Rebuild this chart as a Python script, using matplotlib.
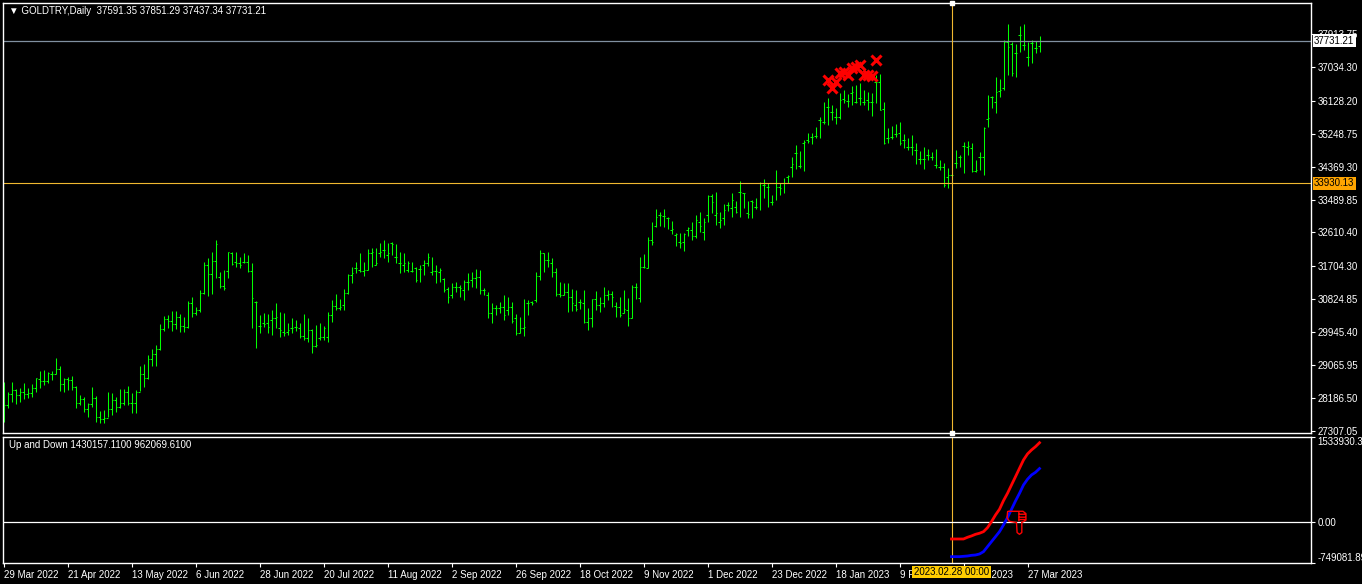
import matplotlib
matplotlib.use('Agg')
import matplotlib.pyplot as plt
import matplotlib.transforms as mtransforms
from matplotlib.collections import LineCollection
from matplotlib.path import Path
import pandas as pd

plt.rcParams['font.family'] = ['Liberation Sans', 'DejaVu Sans']

# daily OHLC of GOLDTRY, 29 Mar 2022 .. 30 Mar 2023
opens = [
    27600, 28000, 28294, 28401, 28267, 28348, 28294, 28321, 28454, 28696,
    28641, 28641, 28829, 28829, 28963, 28561, 28696, 28668, 28481, 28054,
    28161, 27894, 28027, 28187, 27680, 27627, 27653, 27894, 28134, 27947,
    28054, 28348, 28054, 28054, 28348, 28829, 28722, 29230, 29363, 29497,
    30031, 30299, 30245, 30165, 30352, 30112, 30085, 30726, 30459, 30539,
    30993, 31741, 31501, 31848, 31421, 31180, 31581, 32062, 31822, 31795,
    31822, 31822, 31581, 30753, 30112, 30192, 30192, 30272, 30325, 30058,
    29951, 29951, 30058, 30085, 30058, 29844, 29790, 30004, 29577, 29790,
    29817, 29817, 30405, 30646, 30592, 30672, 30993, 31474, 31661, 31608,
    31581, 31608, 32062, 31741, 32062, 32142, 32008, 32329, 31955, 31795,
    31741, 31608, 31581, 31661, 31635, 31741, 31795, 31555, 31581, 31555,
    31367, 31100, 30939, 31153, 31153, 31073, 31287, 31340, 31394, 31421,
    31073, 30939, 30459, 30592, 30592, 30619, 30539, 30619, 30325, 29924,
    30058, 30726, 30753, 30806, 31448, 32062, 31875, 31795, 31555, 30966,
    30939, 31020, 30886, 30672, 30753, 30726, 30219, 30325, 30833, 30672,
    30726, 30939, 30966, 30646, 30619, 30459, 30539, 30325, 31153, 30859,
    31688, 31661, 32409, 32784, 33077, 33051, 32997, 32676, 32542, 32356,
    32356, 32676, 32676, 32516, 32891, 32622, 33077, 33585, 33077, 32891,
    32997, 33344, 33264, 33291, 33692, 33665, 33131, 33451, 33291, 33932,
    33879, 33825, 33425, 33932, 33825, 33932, 34093, 34360, 34734, 34387,
    35001, 35081, 35161, 35188, 35616, 35562, 35963, 35830, 35696, 35696,
    36177, 36123, 36337, 36097, 36203, 36097, 36150, 36097, 36631, 36631,
    35910, 35134, 35161, 35241, 35268, 35081, 34894, 34894, 34814, 34574,
    34574, 34680, 34627, 34413, 34360, 34360, 34093, 34146, 34467, 34627,
    34921, 34894, 34868, 34253, 34627, 34627, 35643, 36230, 36097, 36390,
    36471, 37700, 37646, 37406, 37887, 37620, 37299, 37673, 37540, 37591.35,
]
highs = [
    28615, 28348, 28615, 28428, 28454, 28588, 28454, 28561, 28722, 28909,
    28936, 28883, 28909, 29256, 29043, 28722, 28749, 28776, 28508, 28267,
    28214, 28054, 28481, 28241, 27840, 27867, 28348, 28321, 28214, 28428,
    28428, 28508, 28321, 28401, 29043, 29096, 29336, 29497, 29603, 30165,
    30379, 30405, 30512, 30512, 30432, 30352, 30779, 30886, 30619, 31073,
    31822, 31928, 32089, 32409, 31555, 31608, 32089, 32089, 32089, 31955,
    32062, 32008, 31795, 30779, 30405, 30459, 30432, 30539, 30726, 30486,
    30459, 30192, 30325, 30272, 30192, 30432, 30325, 30031, 30138, 30192,
    30112, 30486, 30806, 30966, 30833, 31100, 31501, 31688, 31822, 32062,
    31822, 32169, 32195, 32195, 32329, 32409, 32329, 32356, 32302, 32089,
    32062, 31848, 31822, 31688, 31741, 31875, 32062, 31955, 31741, 31661,
    31393, 31153, 31260, 31287, 31206, 31340, 31528, 31555, 31635, 31608,
    31126, 31020, 30726, 30672, 30753, 30939, 30886, 30753, 30432, 30352,
    30833, 30806, 30779, 31555, 32142, 32062, 32089, 31928, 31661, 31287,
    31260, 31260, 31100, 31073, 30833, 31073, 30592, 30833, 31046, 30886,
    31153, 31073, 31046, 30753, 30886, 31073, 30859, 31206, 31260, 31955,
    32035, 32489, 32891, 33238, 33158, 33238, 33024, 32917, 32596, 32596,
    32596, 32757, 32891, 33077, 33158, 32997, 33611, 33638, 33692, 33158,
    33371, 33425, 33665, 33451, 33985, 33665, 33451, 33478, 33531, 33959,
    34039, 33932, 33611, 34280, 33932, 34066, 34146, 34627, 34948, 34787,
    35081, 35268, 35268, 35429, 35696, 36097, 36203, 36016, 35936, 36337,
    36417, 36310, 36524, 36551, 36604, 36417, 36364, 36337, 36818, 36845,
    36097, 35402, 35455, 35509, 35562, 35241, 35134, 35214, 35001, 34787,
    34894, 34841, 34761, 34841, 34547, 34467, 34333, 34200, 34814, 34680,
    35028, 35054, 35001, 34547, 34761, 35429, 36284, 36257, 36765, 36711,
    37753, 38181, 37700, 37646, 38127, 38181, 37700, 37753, 37726, 37851.29,
]
lows = [
    27547, 27920, 28081, 28027, 28081, 28161, 28187, 28214, 28348, 28454,
    28534, 28588, 28668, 28829, 28374, 28348, 28401, 28401, 27920, 28000,
    27814, 27680, 27947, 27547, 27520, 27520, 27680, 27733, 27814, 27920,
    28000, 28000, 27787, 27787, 28374, 28481, 28700, 29043, 29043, 29470,
    29977, 30058, 29977, 30031, 29951, 29951, 30058, 30352, 30405, 30486,
    30966, 30913, 30966, 31394, 31126, 31073, 31394, 31741, 31688, 31661,
    31795, 31555, 30058, 29523, 29924, 30085, 29924, 29870, 30058, 29817,
    29844, 29870, 29924, 29977, 29790, 29737, 29684, 29390, 29550, 29737,
    29737, 29684, 30219, 30539, 30539, 30539, 30966, 31260, 31528, 31555,
    31448, 31608, 31688, 31741, 31955, 31928, 31822, 32008, 31795, 31528,
    31555, 31555, 31555, 31287, 31287, 31474, 31715, 31474, 31260, 31287,
    31020, 30726, 30859, 31020, 30886, 30806, 31073, 31153, 31126, 30966,
    30939, 30325, 30192, 30405, 30459, 30272, 30405, 30192, 29870, 29924,
    29844, 30405, 30672, 30753, 31340, 31555, 31688, 31421, 30913, 30886,
    30939, 30486, 30512, 30512, 30566, 30192, 30004, 30085, 30539, 30486,
    30619, 30806, 30619, 30352, 30352, 30459, 30112, 30325, 30833, 30753,
    31661, 31661, 32276, 32757, 32784, 32757, 32703, 32569, 32249, 32195,
    32115, 32516, 32409, 32462, 32622, 32409, 32891, 33131, 32810, 32730,
    32810, 33184, 33024, 33131, 33024, 33264, 32997, 32997, 33238, 33211,
    33531, 33291, 33344, 33478, 33611, 33665, 33932, 34093, 34306, 34333,
    34253, 35001, 34974, 35134, 35134, 35509, 35482, 35616, 35509, 35643,
    36070, 35963, 36016, 36070, 36016, 36016, 35883, 35723, 36070, 35883,
    34974, 35001, 35107, 35161, 34948, 34868, 34814, 34680, 34440, 34440,
    34306, 34547, 34547, 34333, 34280, 33825, 33799, 33932, 34333, 34360,
    34200, 34680, 34227, 34227, 34280, 34146, 35429, 35936, 35803, 36230,
    36417, 36818, 36791, 36765, 37433, 37486, 37059, 37139, 37406, 37437.34,
]
closes = [
    28000, 28294, 28401, 28267, 28348, 28294, 28321, 28454, 28722, 28641,
    28641, 28856, 28829, 28963, 28561, 28696, 28668, 28481, 28054, 28161,
    27894, 28027, 28187, 27680, 27627, 27653, 27894, 28134, 27947, 28054,
    28348, 28054, 28054, 28348, 28829, 28722, 29230, 29363, 29497, 30031,
    30299, 30245, 30165, 30352, 30112, 30085, 30726, 30459, 30539, 30993,
    31741, 31501, 31848, 32302, 31180, 31126, 32089, 31768, 31795, 31741,
    31822, 31581, 30859, 30753, 30112, 30165, 30085, 30325, 30352, 30004,
    29924, 30004, 30058, 30085, 29844, 29790, 30004, 29577, 29603, 29817,
    30058, 30405, 30646, 30592, 30619, 30993, 31474, 31528, 31661, 31581,
    31608, 32062, 32089, 31795, 32089, 32142, 32062, 32302, 31955, 31795,
    31795, 31795, 31581, 31340, 31635, 31795, 31955, 31581, 31581, 31608,
    31073, 30886, 31153, 31153, 31126, 31287, 31287, 31394, 31421, 31073,
    31073, 30459, 30592, 30592, 30619, 30405, 30619, 30245, 29924, 30058,
    30085, 30726, 30726, 31448, 32062, 31875, 31875, 31555, 30966, 30939,
    31020, 30886, 30726, 30566, 30753, 30219, 30325, 30833, 30672, 30726,
    30939, 30966, 30886, 30619, 30405, 30566, 30325, 31153, 31153, 31688,
    31688, 32409, 32356, 33024, 33077, 33051, 32997, 32703, 32569, 32329,
    32569, 32730, 32516, 32944, 32784, 32891, 33585, 33425, 33131, 32944,
    33211, 33344, 33478, 33158, 33692, 33665, 33104, 33425, 33291, 33932,
    33879, 33825, 33425, 33825, 33799, 33932, 34120, 34440, 34734, 34387,
    35028, 35054, 35161, 35188, 35616, 35562, 35963, 35830, 35696, 36150,
    36150, 36123, 36364, 36097, 36203, 36097, 36097, 36097, 36631, 35883,
    35001, 35134, 35161, 35241, 35001, 35081, 34894, 34894, 34814, 34574,
    34574, 34680, 34627, 34413, 34360, 33879, 34146, 34146, 34467, 34627,
    34921, 34921, 34253, 34280, 34627, 35402, 35669, 36230, 36364, 36417,
    37700, 37566, 36872, 37406, 37887, 37620, 37299, 37673, 37540, 37731.21,
]

holidays = ['2022-04-15', '2022-12-26', '2023-01-02']
dates = [d for d in pd.bdate_range('2022-03-29', '2023-04-07')
         if d.strftime('%Y-%m-%d') not in holidays][:len(closes)]

price_ticks = [37913.75, 37034.30, 36128.20, 35248.75, 34369.30, 33489.85,
               32610.40, 31704.30, 30824.85, 29945.40, 29065.95, 28186.50, 27307.05]
bid = 37731.21
cursor_bar = 237
cursor_price = 33930.13

# red X marks above the January top
cross_bars = [206, 207, 208, 209, 210, 211, 212, 213, 214, 215, 216, 217, 218]
cross_prices = [36685, 36462, 36640, 36863, 36907, 36818, 36997, 37041, 37086,
                36818, 36818, 36792, 37219]

# "Up and Down" indicator, drawn from the cursor bar onwards
ind_bars = list(range(237, 260))
up_line = [-314000, -314000, -314000, -314000, -283000, -259000, -229000, -210000,
           -181000, -109000, 0, 121000, 225000, 381000, 514000, 665000, 815000,
           967000, 1118000, 1227000, 1299000, 1359000, 1430157.11]
down_line = [-634000, -634000, -634000, -628000, -622000, -610000, -604000, -586000,
             -544000, -453000, -362000, -272000, -181000, -60000, 73000, 224000,
             375000, 514000, 665000, 768000, 846000, 894000, 962069.61]
sub_top = 1533930.39
sub_bottom = -749081.89
thumb_bar = 253

W, H = 1362, 584
fig = plt.figure(figsize=(W / 100, H / 100), dpi=100, facecolor='black')
ax = fig.add_axes([3 / W, 151 / H, 1308 / W, 430 / H], facecolor='black')
ax2 = fig.add_axes([3 / W, 21 / H, 1308 / W, 126 / H], facecolor='black')

bar_col = '#00ff00'
cross_col = '#f0b830'
fs = 7

segs = []
for i, (o, h, l, c) in enumerate(zip(opens, highs, lows, closes)):
    segs.append([(i, l), (i, h)])
    segs.append([(i - 0.45, o), (i, o)])
    segs.append([(i, c), (i + 0.45, c)])
ax.add_collection(LineCollection(segs, colors=bar_col, linewidths=0.75))

ax.plot(cross_bars, cross_prices, 'x', color='red', ms=6.5, mew=2.2, zorder=4)

ax.axhline(bid, color='#8090a0', lw=0.9)
ax.axhline(cursor_price, color=cross_col, lw=0.8)
ax.axvline(cursor_bar, color=cross_col, lw=0.8)
ax2.axvline(cursor_bar, color=cross_col, lw=0.8)

for a in (ax, ax2):
    a.set_xlim(-0.125, 326.875)
    for s in a.spines.values():
        s.set_color('white')
        s.set_linewidth(1)
    a.yaxis.tick_right()
    a.tick_params(axis='y', colors='white', labelcolor='white', length=3,
                  width=0.8, labelsize=fs, pad=1.5)

ax.set_ylim(27252, 38742)
ax.set_yticks(price_ticks)
ax.set_yticklabels(['%.2f' % v for v in price_ticks])
ax.tick_params(axis='x', bottom=False, labelbottom=False)
ax.plot([cursor_bar, cursor_bar], [38742, 27252], 's', color='white', ms=3,
        clip_on=False, zorder=6)

right = mtransforms.blended_transform_factory(ax.transAxes, ax.transData)
ax.text(1 + 3 / 1308, bid, '%.2f' % bid, transform=right, ha='left', va='center',
        fontsize=fs, color='black', zorder=8, clip_on=False,
        bbox=dict(boxstyle='square,pad=0.15', fc='white', ec='none'))
ax.text(1 + 3 / 1308, cursor_price, '%.2f' % cursor_price, transform=right,
        ha='left', va='center', fontsize=fs, color='black', zorder=8, clip_on=False,
        bbox=dict(boxstyle='square,pad=0.15', fc='#ffa500', ec='none'))

ax.text(6 / 1308, 1 - 8 / 430,
        '\u25bc GOLDTRY,Daily  %.2f %.2f %.2f %.2f' % (opens[-1], highs[-1], lows[-1], closes[-1]),
        transform=ax.transAxes, ha='left', va='center', fontsize=fs, color='white')

# indicator window
ax2.set_ylim(sub_bottom, sub_top)
ax2.axhline(0, color='white', lw=0.9)
ax2.plot(ind_bars, up_line, color='red', lw=2)
ax2.plot(ind_bars, down_line, color='blue', lw=2)

# thumb-down sign drawn as an outline marker (fist on top, thumb pointing down)
thumb = Path(
    [(-0.75, 0.95), (0.55, 0.95), (0.8, 0.75), (0.8, 0.2), (0.55, 0.05),
     (0.45, 0.05), (0.45, -0.85), (0.25, -1.0), (0.05, -0.85), (0.0, 0.0),
     (-0.6, 0.1), (-0.8, 0.4), (-0.75, 0.95),
     (0.2, 0.95), (0.2, 0.1), (0.2, 0.7), (0.8, 0.7), (0.2, 0.45), (0.8, 0.45),
     (0.2, 0.25), (0.75, 0.25)],
    [Path.MOVETO] + [Path.LINETO] * 12 + [Path.MOVETO, Path.LINETO,
                                           Path.MOVETO, Path.LINETO,
                                           Path.MOVETO, Path.LINETO,
                                           Path.MOVETO, Path.LINETO])
ax2.plot([thumb_bar], [0], marker=thumb, ms=17, mfc='none', mec='red', mew=1,
         ls='none', zorder=5)

ax2.set_yticks([sub_top, 0, sub_bottom])
ax2.set_yticklabels(['%.2f' % sub_top, '0.00', '%.2f' % sub_bottom])
ylabs = ax2.get_yticklabels()
ylabs[0].set_va('top')
ylabs[2].set_va('bottom')
ax2.text(6 / 1308, 1 - 8 / 126,
         'Up and Down %.4f %.4f' % (up_line[-1], down_line[-1]),
         transform=ax2.transAxes, ha='left', va='center', fontsize=fs, color='white')

xt = list(range(0, len(dates), 16))
ax2.set_xticks(xt)
ax2.set_xticklabels(['%d %s' % (dates[i].day, dates[i].strftime('%b %Y')) for i in xt])
ax2.tick_params(axis='x', colors='white', labelcolor='white', length=3, width=0.8,
                labelsize=fs, pad=2)
for lab in ax2.get_xticklabels():
    lab.set_ha('left')

bottom = mtransforms.blended_transform_factory(ax2.transData, ax2.transAxes)
ax2.text(cursor_bar, -9 / 126, dates[cursor_bar].strftime('%Y.%m.%d 00:00'),
         transform=bottom, ha='center', va='center', fontsize=fs, color='black',
         zorder=10, clip_on=False,
         bbox=dict(boxstyle='square,pad=0.15', fc='#ffcc00', ec='none'))

plt.savefig('out.png', dpi=100, facecolor='black')
